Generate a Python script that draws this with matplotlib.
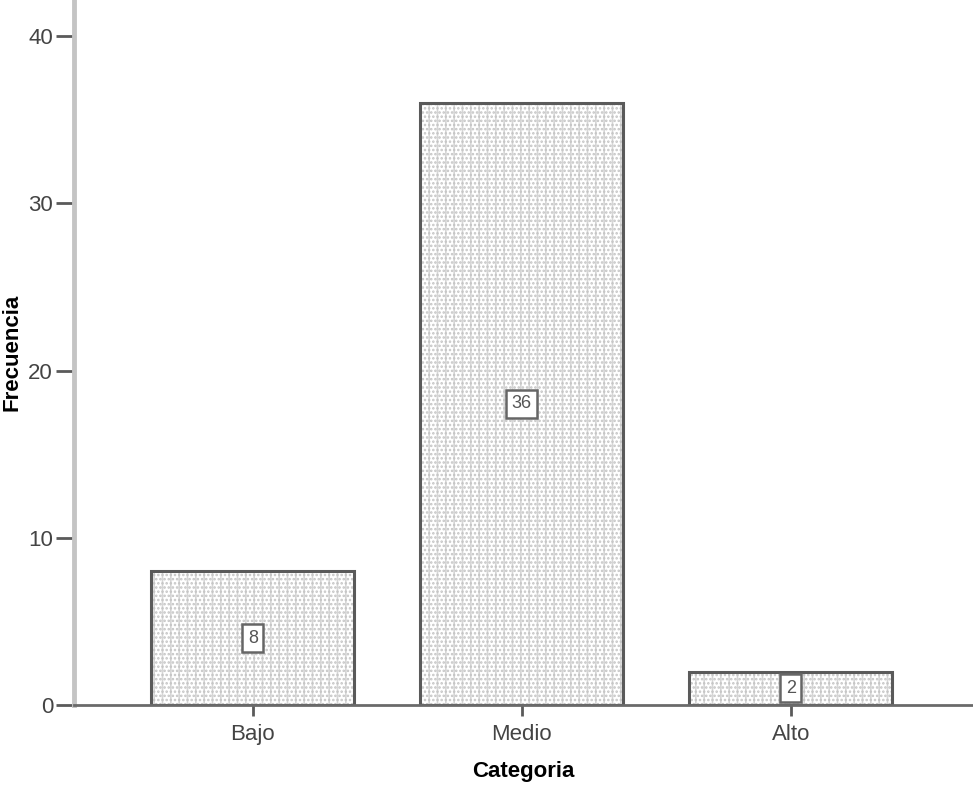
import matplotlib
matplotlib.use("Agg")
import matplotlib.pyplot as plt
import numpy as np

categorias = ["Bajo", "Medio", "Alto"]
frecuencias = [8, 36, 2]
yticks = [0, 10, 20, 30, 40]

plt.rcParams['font.family'] = ['Liberation Sans', 'DejaVu Sans']
plt.rcParams['hatch.linewidth'] = 1.2

fig = plt.figure(figsize=(9.73, 7.86), dpi=100)
ax = fig.add_axes([0.076, 0.103, 0.924, 0.897])

x = np.arange(len(categorias))
# relleno punteado gris claro, luego el contorno
ax.bar(x, frecuencias, width=0.755, color='white', edgecolor='#d6d6d6',
       linewidth=0, hatch='||', zorder=2)
ax.bar(x, frecuencias, width=0.755, color='none', edgecolor='#c4c4c4',
       linewidth=0, hatch='....', zorder=2.2)
ax.bar(x, frecuencias, width=0.755, color='none', edgecolor='#5a5a5a',
       linewidth=2.2, zorder=2.5)

# etiquetas de valor en el centro de cada barra
for xi, v in zip(x, frecuencias):
    ax.text(xi, v / 2, str(v), ha='center', va='center', fontsize=13,
            color='#555555', zorder=3,
            bbox=dict(boxstyle='square,pad=0.3', facecolor='white',
                      edgecolor='#666666', linewidth=1.8))

ax.set_xlim(-0.665, 2.677)
ax.set_ylim(0, 42.15)
ax.set_xticks(x)
ax.set_xticklabels(categorias)
ax.set_yticks(yticks)

ax.spines['top'].set_visible(False)
ax.spines['right'].set_visible(False)
ax.spines['left'].set_color('#c4c4c4')
ax.spines['left'].set_linewidth(3.5)
ax.spines['bottom'].set_color('#6a6a6a')
ax.spines['bottom'].set_linewidth(2)

ax.tick_params(axis='y', length=13, width=2, color='#5a5a5a', labelsize=16,
               labelcolor='#444444', pad=2)
ax.tick_params(axis='x', length=8, width=2, color='#5a5a5a', labelsize=16,
               labelcolor='#444444', pad=6)

fig.text(12 / 973, 1 - 352 / 786, 'Frecuencia', fontsize=16, fontweight='bold',
         rotation=90, ha='center', va='center')
fig.text(523 / 973, 1 - 771 / 786, 'Categoria', fontsize=16, fontweight='bold',
         ha='center', va='center')

plt.savefig('out.png', dpi=100)
